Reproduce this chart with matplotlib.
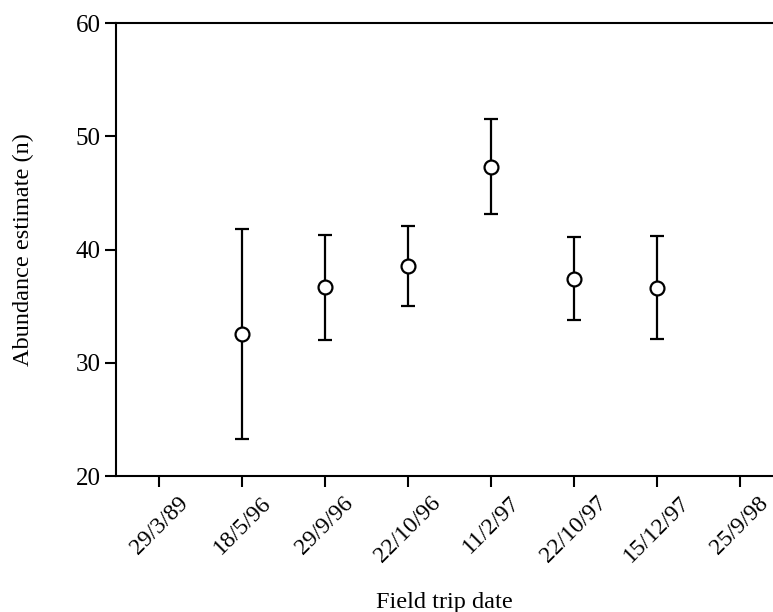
import matplotlib
matplotlib.use('Agg')
import matplotlib.pyplot as plt

# data
dates = ["29/3/89", "18/5/96", "29/9/96", "22/10/96", "11/2/97", "22/10/97", "15/12/97", "25/9/98"]
trip_idx = [1, 2, 3, 4, 5, 6]
estimate = [32.5, 36.7, 38.5, 47.3, 37.4, 36.6]
upper = [41.8, 41.3, 42.1, 51.5, 41.1, 41.2]
lower = [23.3, 32.0, 35.0, 43.1, 33.8, 32.1]

plt.rcParams['font.family'] = ['Liberation Serif', 'DejaVu Serif']

fig = plt.figure(figsize=(7.73, 6.12), dpi=100)
ax = fig.add_axes([0.150, 0.2222, 0.85, 0.7402])

err_lo = [e - l for e, l in zip(estimate, lower)]
err_hi = [u - e for e, u in zip(estimate, upper)]
ax.errorbar(trip_idx, estimate, yerr=[err_lo, err_hi], fmt='o', color='black',
            mfc='white', mec='black', mew=1.6, markersize=10,
            elinewidth=1.6, capsize=5, capthick=1.6, zorder=3)

ax.set_xlim(-0.52, 7.4)
ax.set_ylim(20, 60)
ax.set_yticks([20, 30, 40, 50, 60])
ax.set_xticks(range(len(dates)))
ax.set_xticklabels(dates, rotation=45, ha='center')
ax.tick_params(axis='both', direction='out', length=8, width=1.5, colors='black')
ax.tick_params(axis='x', labelsize=17, pad=4)
ax.tick_params(axis='y', labelsize=18, pad=3)

ax.spines['right'].set_visible(False)
for s in ['left', 'bottom', 'top']:
    ax.spines[s].set_linewidth(1.5)

ax.set_xlabel("Field trip date", fontsize=17.5, labelpad=18)
ax.set_ylabel("Abundance estimate (n)", fontsize=17.5, labelpad=30)

plt.savefig("out.png", dpi=100)
plt.close(fig)
